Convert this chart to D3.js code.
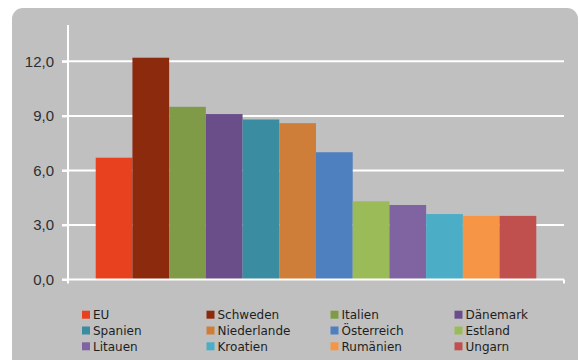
<!DOCTYPE html>
<html>
<head>
<meta charset="utf-8">
<script src="https://cdn.jsdelivr.net/npm/d3@7"></script>
<style>
  html, body { margin: 0; padding: 0; background: #ffffff; }
  svg { display: block; }
</style>
</head>
<body>
<svg id="chart" width="579" height="360"></svg>
<script>
// Countries (one bar each) and their values
const countries = ["EU", "Schweden", "Italien", "Dänemark", "Spanien", "Niederlande",
                   "Österreich", "Estland", "Litauen", "Kroatien", "Rumänien", "Ungarn"];
const values = [6.7, 12.2, 9.5, 9.1, 8.8, 8.6, 7.0, 4.3, 4.1, 3.6, 3.5, 3.5];
const colors = ["#e8411f", "#8c2a0d", "#7f9b48", "#6a4e8a", "#3a8ca1", "#cf7e3a",
                "#4e7fbf", "#9bbb58", "#8064a2", "#4badc6", "#f69545", "#c0504d"];
const yTicks = [0, 3, 6, 9, 12];

const svg = d3.select("#chart");

// Rounded grey panel behind the chart
svg.append("rect")
  .attr("x", 12).attr("y", 8)
  .attr("width", 566).attr("height", 370)
  .attr("rx", 11).attr("ry", 11)
  .attr("fill", "#c0c0c0");

const plot = { left: 68, right: 564, top: 25, bottom: 279.5 };

const y = d3.scaleLinear().domain([0, 14]).range([plot.bottom, plot.top]);
const x = d3.scaleBand().domain(countries)
  .range([plot.left, plot.right])
  .paddingInner(0).paddingOuter(0.755);

// Horizontal grid lines
svg.append("g").selectAll("line")
  .data(yTicks.filter(d => d > 0))
  .join("line")
  .attr("x1", plot.left - 6).attr("x2", plot.right)
  .attr("y1", d => y(d)).attr("y2", d => y(d))
  .attr("stroke", "#ffffff").attr("stroke-width", 2);

// Bars
svg.append("g").selectAll("rect")
  .data(countries)
  .join("rect")
  .attr("x", d => x(d))
  .attr("width", x.bandwidth())
  .attr("y", (d, i) => y(values[i]))
  .attr("height", (d, i) => y(0) - y(values[i]))
  .attr("fill", (d, i) => colors[i]);

// Value axis
const yAxis = d3.axisLeft(y)
  .tickValues(yTicks)
  .tickSize(6)
  .tickPadding(8)
  .tickFormat(d => d3.format(".1f")(d).replace(".", ","));

const ga = svg.append("g")
  .attr("transform", `translate(${plot.left},0)`)
  .call(yAxis);
ga.select(".domain").remove();
ga.selectAll(".tick line").attr("stroke", "#ffffff").attr("stroke-width", 2);
ga.selectAll(".tick text")
  .attr("fill", "#2e2e2e")
  .style("font-family", "'Liberation Sans', Arial, sans-serif")
  .style("font-size", "15px");

// Axis lines
svg.append("line")
  .attr("x1", plot.left).attr("x2", plot.left)
  .attr("y1", plot.top).attr("y2", plot.bottom + 4)
  .attr("stroke", "#ffffff").attr("stroke-width", 2);
svg.append("line")
  .attr("x1", plot.left - 6).attr("x2", plot.right)
  .attr("y1", y(0)).attr("y2", y(0))
  .attr("stroke", "#ffffff").attr("stroke-width", 2);
svg.append("line")
  .attr("x1", plot.right).attr("x2", plot.right)
  .attr("y1", y(0)).attr("y2", y(0) + 4)
  .attr("stroke", "#ffffff").attr("stroke-width", 2);

// Legend: 4 columns x 3 rows
const legendCols = [82, 206.5, 330.5, 454.5];
const legendRows = [314.7, 330.5, 346.3];
const legend = svg.append("g").selectAll("g")
  .data(countries)
  .join("g")
  .attr("transform", (d, i) => `translate(${legendCols[i % 4]},${legendRows[Math.floor(i / 4)]})`);
legend.append("rect")
  .attr("x", 0).attr("y", -4)
  .attr("width", 8).attr("height", 8)
  .attr("fill", (d, i) => colors[i]);
legend.append("text")
  .attr("x", 11).attr("y", 0)
  .attr("dy", "0.36em")
  .attr("fill", "#1e1e1e")
  .style("font-family", "'DejaVu Sans', sans-serif")
  .style("font-size", "12px")
  .text(d => d);
</script>
</body>
</html>
